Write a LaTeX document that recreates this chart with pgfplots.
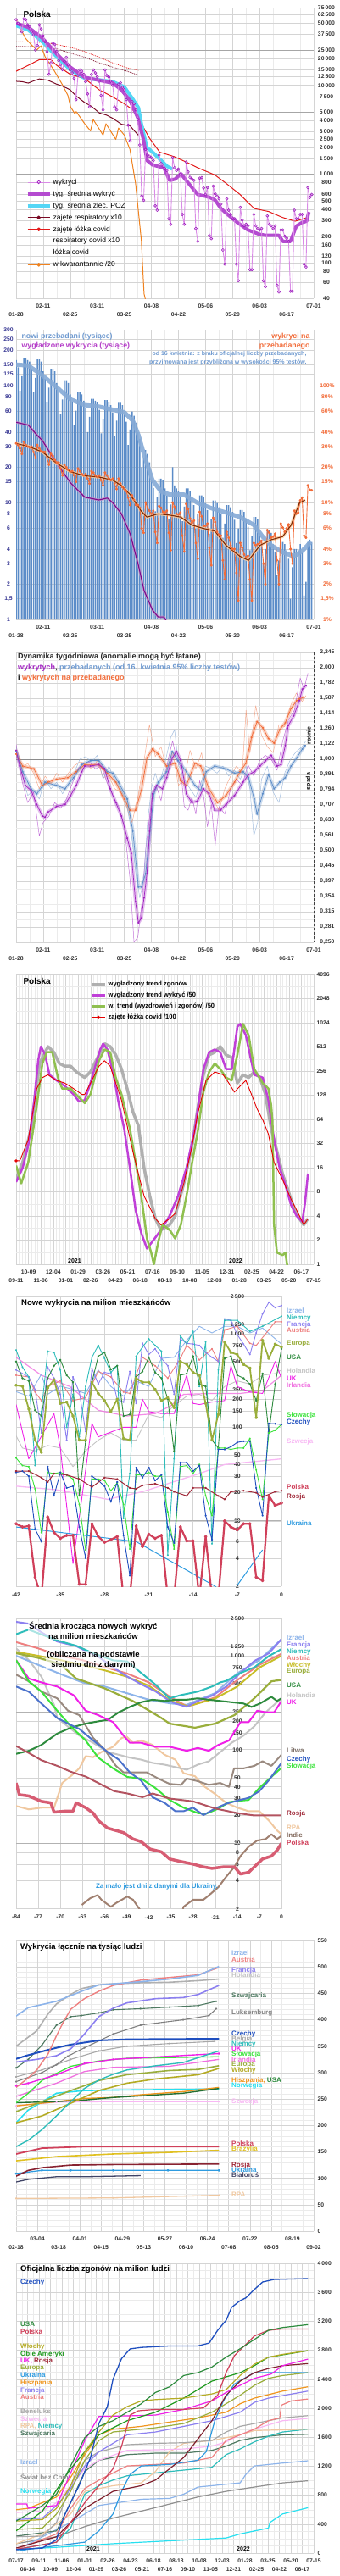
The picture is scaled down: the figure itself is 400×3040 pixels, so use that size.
\documentclass[border=0pt]{standalone}
\usepackage{fontspec}
\setmainfont{Liberation Sans}
\usepackage{pgfplots}
\pgfplotsset{compat=1.18}
\definecolor{cPurpleThick}{HTML}{B44BD0}
\definecolor{cPurpleLight}{HTML}{D98BE6}
\definecolor{cPurpleMark}{HTML}{A021C0}
\definecolor{cCyan}{HTML}{55D6F5}
\definecolor{cDarkRed}{HTML}{7A0A25}
\definecolor{cRed}{HTML}{E31A1A}
\definecolor{cOrange}{HTML}{F0821E}
\definecolor{cBar}{HTML}{5B8CC8}
\definecolor{cBlueSmooth}{HTML}{86AAD6}
\definecolor{cPurple2}{HTML}{7B0A8C}
\definecolor{cOrange2}{HTML}{F26B38}
\definecolor{cBrown}{HTML}{7A2A08}
\definecolor{cTickBlue}{HTML}{3C3C96}
\definecolor{cTextBlue}{HTML}{6F9AD0}
\definecolor{cTextPurple}{HTML}{B43CC8}
\definecolor{cGray4}{HTML}{A8A8A8}
\definecolor{cPurple4}{HTML}{C040D8}
\definecolor{cGreen4}{HTML}{90C050}
\definecolor{cIzrael}{HTML}{8DB4EA}
\definecolor{cNiemcy}{HTML}{2EBDBA}
\definecolor{cFrancja}{HTML}{8C80F0}
\definecolor{cAustria}{HTML}{EE8080}
\definecolor{cEuropa}{HTML}{9AAE3C}
\definecolor{cUSA}{HTML}{2E8B3E}
\definecolor{cHolandia}{HTML}{C4C4C4}
\definecolor{cUK}{HTML}{F020E8}
\definecolor{cIrlandia}{HTML}{F070E0}
\definecolor{cSlowacja}{HTML}{3BE33B}
\definecolor{cCzechy}{HTML}{1F4FBF}
\definecolor{cSzwecja}{HTML}{F8B8F4}
\definecolor{cPolska}{HTML}{D0405A}
\definecolor{cRosja}{HTML}{A02838}
\definecolor{cUkraina}{HTML}{2E9BE0}
\definecolor{cWlochy}{HTML}{C8BE28}
\definecolor{cLitwa}{HTML}{9A8A80}
\definecolor{cRPA}{HTML}{F0C8A0}
\definecolor{cIndie}{HTML}{A08070}
\definecolor{cHiszpania}{HTML}{F0961E}
\definecolor{cNorwegia}{HTML}{28E0F0}
\definecolor{cBrazylia}{HTML}{E0C020}
\definecolor{cBialorus}{HTML}{404466}
\definecolor{cSzwajcaria}{HTML}{4F7A62}
\definecolor{cLuks}{HTML}{808080}
\definecolor{cBelgia}{HTML}{A8A8A8}
\definecolor{cAmeryki}{HTML}{1E9A1E}
\definecolor{cSwiat}{HTML}{909090}
\pgfplotsset{
  base/.style={
    scale only axis, anchor=north west,
    axis line style={draw=none},
    tick style={draw=none},
    tick label style={font=\fontsize{6.8}{8}\selectfont\bfseries, text=black!80},
    /pgf/number format/assume math mode=true,
    grid=both,
    major grid style={draw=black!17, line width=0.45pt},
    minor grid style={draw=black!8, line width=0.4pt},
    yticklabel pos=right,
    unbounded coords=jump,
    every axis plot/.append style={line join=round},
  },
  log2grid/.style={
    grid=none, xmajorgrids=true, xminorgrids=true, ymajorgrids=true, yminorgrids=false,
  },
  daterows/.style={
    xticklabel style={anchor=center, yshift=-19pt},
    extra x tick style={xticklabel style={yshift=10pt}},
  },
}
\tikzset{lab/.style={font=\fontsize{8}{9}\selectfont\bfseries, anchor=west, inner sep=0pt}}
\begin{document}
\begin{tikzpicture}[x=1pt,y=1pt]
\fill[white] (0pt,0pt) rectangle (400pt,-3040pt);
\useasboundingbox (0pt,0pt) rectangle (400pt,-3040pt);

%%%%%%%%%%%%%%%% PANEL 1
\begin{axis}[base, daterows, at={(19pt,-9pt)}, width=351pt, height=343pt,
  xmin=0, xmax=154, ymode=log, ymin=40, ymax=75000,
  xtick={0,28,...,140}, xticklabels={01-28,02-25,03-25,04-22,05-20,06-17},
  extra x ticks={14,42,...,154}, extra x tick labels={02-11,03-11,04-08,05-06,06-03,07-01},
  minor xtick={7,21,...,147},
  ytick={40,60,80,100,120,160,200,300,400,500,600,800,1000,1500,2000,2500,3000,4000,5000,7500,10000,12500,15000,20000,25000,37500,50000,62500,75000},
  yticklabels={40,60,80,100,120,160,200,300,400,500,600,800,1\,000,1\,500,2\,000,2\,500,3\,000,4\,000,5\,000,7\,500,10\,000,12\,500,15\,000,20\,000,25\,000,37\,500,50\,000,62\,500,75\,000},
  minor ytick={},
  yticklabel style={anchor=center, xshift=15pt},
  extra y ticks={200,1000,5000,25000}, extra y tick labels={},
  extra y tick style={major grid style={draw=black!35, line width=0.6pt}},
  legend style={at={(0.03,0.42)}, anchor=north west, draw=none, fill=none, font=\fontsize{8.5}{10}\selectfont, row sep=2.2pt, inner sep=1pt},
  legend cell align=left,
  legend image code/.code={\draw[mark repeat=2,mark phase=2,#1] plot coordinates {(0pt,0pt) (13pt,0pt) (26pt,0pt)};},
]
\addplot[forget plot, cDarkRed, densely dotted, line width=0.8pt] coordinates {(0,27400)(13.6,27200)(21,25800)(28,23100)(35.5,20700)(43,17900)(50,16000)(57.5,14400)(63.3,13000)};
\addplot[forget plot, cRed, densely dotted, line width=0.8pt] coordinates {(0,31000)(13.6,30500)(21,28800)(28,26800)(35.5,24000)(43,20700)(50,17900)(57.5,15700)(63.3,14700)};
\addplot[forget plot, cOrange, line width=1pt] coordinates {(0,56000)(1.9,45000)(4.8,34000)(7.6,29000)(10.7,25000)(12.9,27800)(15,21000)(19.4,15000)(23.8,10300)(26.8,7700)(28.2,5700)(30.4,4800)(31.1,5060)(35.5,3690)(38.5,3070)(39.9,4120)(45,2750)(46.5,3690)(51.6,2460)(53,3300)(56,2750)(58.9,1900)(61.8,790)(64.8,180)(66.2,45)(67,38)};
\addplot[forget plot, cDarkRed, line width=1pt] coordinates {(0,11100)(3,11000)(6.3,10600)(9,11200)(12.1,11800)(16.5,11400)(21,10300)(24,9800)(28,8900)(31,7600)(35.5,6400)(39,5800)(43,4900)(47,4600)(50,4250)(54.5,3650)(59,3500)(61,3100)(63.3,2750)};
\addplot[forget plot, cRed, line width=1pt] coordinates {(0,14400)(6.3,16800)(12.1,19500)(18,19500)(21,16800)(28,13300)(35.5,11900)(43,8900)(50,7400)(56,6200)(60.4,5300)(64.8,3700)(69,2550)(74.3,1770)(81.6,1580)(88,1370)(94,1180)(102.8,980)(108.6,790)(115.9,590)(123.2,410)(130.6,380)(137.9,325)(144.4,295)(146.6,305)(151.8,330)};
\addplot[forget plot, cCyan, line width=4pt] coordinates {(0,47000)(6.3,42000)(13.6,31000)(21,21000)(28,15000)(35.5,12000)(43,11500)(50,11000)(56,9600)(60.4,7000)(63.3,5600)(64.8,3700)(67.7,2000)(70.6,1770)(75,1430)(78,1230)(80.8,1140)};
\addplot[forget plot, cPurpleThick, line width=4pt] coordinates {(0,50000)(6.3,45000)(13.6,34000)(21,22600)(28,16000)(35.5,12300)(43,11400)(50,10600)(54.5,8900)(59,6700)(63,4300)(66,2400)(67.7,1430)(70.6,1270)(76.5,1180)(79.4,850)(82.3,880)(85.3,1010)(88,850)(94,590)(100,550)(103,510)(106,410)(108.6,365)(114.5,285)(120,235)(126,210)(129,205)(136,205)(138,175)(142,175)(145,260)(148,285)(150.3,295)(151.5,375)};
\addplot[forget plot, cPurpleLight, line width=0.9pt, mark=o, mark size=1.6pt, mark options={draw=cPurpleMark, line width=0.6pt, fill=white}] coordinates {
(0,55000)(1,50000)(2,48000)(3,40000)(4,56000)(5,55000)(6,48000)(7,46000)(8,40000)(9,37000)(10,25000)(11,28000)(12,48000)(13,43000)(14,36000)(15,31000)(16,24000)(17,13300)(18,17900)(19,29900)(20,28800)(21,24000)(22,19000)(23,17000)(24,15000)(25,18600)(26,20700)(27,17000)(28,14900)(29,13800)(30,12000)(31,6900)(32,12900)(33,14900)(34,14400)(35,13300)(36,11000)(37,8000)(38,5700)(39,13300)(40,14900)(41,13800)(42,12500)(43,11100)(44,7700)(45,5300)(46,14900)(47,12900)(48,12400)(49,11100)(50,10000)(51,5700)(52,5300)(53,10300)(54,10700)(55,9500)(56,8900)(57,6900)(58,3560)(59,2370)(60,6600)(61,6200)(62,5300)(63,4120)(64,2130)(65,567)(66,508)(67,1900)(68,1640)(69,1590)(70,1530)(71,1420)(72,440)(73,393)(74,1640)(75,1320)(76,1230)(77,1150)(78,1100)(79,315)(80,272)(81,1530)(82,1180)(83,1100)(84,1140)(85,1000)(86,352)(87,272)(88,1370)(89,1060)(90,920)(91,880)(92,850)(93,244)(94,175)(95,900)(96,915)(97,700)(98,590)(99,706)(100,203)(101,188)(102,733)(103,600)(104,567)(105,527)(106,460)(107,140)(108,97)(109,527)(110,393)(111,352)(112,315)(113,315)(114,97)(115,63)(116,423)(117,304)(118,262)(119,272)(120,262)(121,84)(122,84)(123,352)(124,262)(125,244)(126,235)(127,244)(128,63)(129,54)(130,339)(131,272)(132,262)(133,244)(134,262)(135,56)(136,47)(137,235)(138,235)(139,200)(140,190)(141,175)(142,48)(143,48)(144,393)(145,315)(146,315)(147,352)(148,352)(149,97)(150,90)(151,706)(152,547)(153,590)};
\addlegendimage{cPurpleLight, line width=0.9pt, mark=o, mark size=1.8pt, mark options={draw=cPurpleMark, line width=0.7pt, fill=white}}
\addlegendentry{wykryci}
\addlegendimage{cPurpleThick, line width=4pt}
\addlegendentry{tyg. średnia wykryć}
\addlegendimage{cCyan, line width=4pt}
\addlegendentry{tyg. średnia zlec. POZ}
\addlegendimage{cDarkRed, line width=1pt, mark=*, mark size=1.8pt}
\addlegendentry{zajęte respiratory x10}
\addlegendimage{cRed, line width=1pt, mark=*, mark size=1.8pt}
\addlegendentry{zajęte łóżka covid}
\addlegendimage{cDarkRed, densely dotted, line width=0.8pt}
\addlegendentry{respiratory covid x10}
\addlegendimage{cRed, densely dotted, line width=0.8pt}
\addlegendentry{łóżka covid}
\addlegendimage{cOrange, line width=1pt, mark=*, mark size=1.8pt}
\addlegendentry{w kwarantannie /20}
\end{axis}
\node[anchor=west, font=\fontsize{10}{12}\selectfont\bfseries] at (24pt,-17pt) {Polska};

%%%%%%%%%%%%%%%% PANEL 2
\begin{axis}[base, daterows, at={(19pt,-389pt)}, width=351pt, height=342pt,
  xmin=0, xmax=154, ymode=log, ymin=1, ymax=300, log origin y=infty,
  xtick={0,28,...,140}, xticklabels={01-28,02-25,03-25,04-22,05-20,06-17},
  extra x ticks={14,42,...,154}, extra x tick labels={02-11,03-11,04-08,05-06,06-03,07-01},
  minor xtick={7,21,...,147},
  ytick={1,1.5,2,3,4,6,8,10,15,20,30,40,60,80,100,125,150,200,250,300},
  yticklabels={1,{1,5},2,3,4,6,8,10,15,20,30,40,60,80,100,125,150,200,250,300},
  minor ytick={},
  yticklabel pos=left,
  yticklabel style={anchor=center, xshift=-9pt, text=cTickBlue},
  extra y ticks={100}, extra y tick labels={},
  extra y tick style={major grid style={draw=black!35, line width=0.6pt}},
]
\addplot[ybar, bar width=1.5pt, fill=cBar, draw=none, forget plot] coordinates {
(0,165)(1,143)(2,90)(3,120)(4,172)(5,172)(6,165)(7,160)(8,138)(9,87)(10,116)(11,167)(12,167)(13,160)(14,132)(15,114)(16,72)(17,96)(18,138)(19,138)(20,132)(21,105)(22,90)(23,57)(24,76)(25,109)(26,109)(27,105)(28,84)(29,72)(30,46)(31,61)(32,87)(33,87)(34,84)(35,74)(36,64)(37,40)(38,54)(39,77)(40,77)(41,74)(42,72)(43,62)(44,39)(45,52)(46,75)(47,75)(48,72)(49,68)(50,59)(51,37)(52,50)(53,71)(54,71)(55,68)(56,57)(57,49)(58,31)(59,42)(60,60)(61,55)(62,48)(63,40)(64,35)(65,20)(66,24)(67,28)(68,26)(69,22)(70,15.4)(71,13.3)(72,8.4)(73,11.2)(74,16)(75,16)(76,15.4)(77,13.2)(78,11.4)(79,7.2)(80,9.6)(81,20)(82,14)(83,13.2)(84,12.6)(85,11)(86,6.9)(87,9.2)(88,13.2)(89,13.2)(90,12.6)(91,11)(92,9.5)(93,6)(94,8)(95,11.5)(96,11.5)(97,11)(98,9.9)(99,8.6)(100,5.4)(101,7.2)(102,10.4)(103,10.4)(104,9.9)(105,9.1)(106,7.9)(107,5)(108,6.6)(109,9.5)(110,9.5)(111,9.1)(112,8.3)(113,7.1)(114,4.5)(115,6)(116,8.6)(117,8.6)(118,8.3)(119,7.2)(120,6.2)(121,3.9)(122,5.2)(123,7.5)(124,7.5)(125,7.2)(126,5.5)(127,4.8)(128,3)(129,4)(130,5.8)(131,5.8)(132,5.5)(133,4.4)(134,3.8)(135,2.4)(136,3.2)(137,4.6)(138,4.6)(139,4.4)(140,3.9)(141,3.3)(142,1.5)(143,2.8)(144,4)(145,4)(146,3.9)(147,4.4)(148,3.8)(149,1.6)(150,2.1)(151,4.6)(152,4.8)(153,4.6)};
\addplot[cBlueSmooth, line width=5pt, opacity=0.9] coordinates {(0,151)(6.3,148)(13.6,122)(20.9,97)(28.2,76)(35.5,68)(42.8,66)(50.1,62)(56,59)(60.4,50)(63.3,37.8)(66.2,25.6)(70.6,15.5)(75,12.4)(79.4,11.7)(86.7,11.7)(94,9.9)(101.3,8.9)(108.6,8.2)(115.9,7.5)(123.2,6.4)(127.6,5.1)(132,4.3)(137.9,3.76)(143.7,3.46)(148.1,3.86)(152.5,4.6)};
\addplot[violet!45, line width=3pt, opacity=0.7] coordinates {(0,48.5)(6.3,45.9)(10.7,37.8)(13.6,33.8)(20.9,21.7)(28.2,14.7)(35.5,11.1)(42.8,10.5)(47.2,10.9)(50.1,9.9)(54.5,8)(59,5.4)(63.3,2.9)(66.2,1.77)(70.6,1.2)(73.5,1.05)(76.5,1.05)(78,0.95)};
\addplot[cPurple2, line width=1.1pt] coordinates {(0,48.5)(6.3,45.9)(10.7,37.8)(13.6,33.8)(20.9,21.7)(28.2,14.7)(35.5,11.1)(42.8,10.5)(47.2,10.9)(50.1,9.9)(54.5,8)(59,5.4)(63.3,2.9)(66.2,1.77)(70.6,1.2)(73.5,1.05)(76.5,1.05)(78,0.95)};
\addplot[orange!40, line width=3.5pt, opacity=0.8] coordinates {(0,31.9)(6.3,30.2)(13.6,27)(20.9,21.7)(28.2,18.3)(35.5,16.9)(42.8,16.5)(50.1,15.5)(54.5,13.9)(59,11.7)(64.8,8.4)(67.7,7.5)(73.5,8)(79.4,7.8)(85.2,7.5)(91,6.4)(96.9,6)(102.8,5.7)(108.6,4.3)(115.9,3.46)(120.3,3.2)(126.2,4.3)(132,4.8)(137.9,5.1)(142.3,6.4)(146.6,9.9)(149.5,10.5)};
\addplot[cOrange2, line width=0.9pt, mark=*, mark size=1.1pt] coordinates {
(0,32)(1,31)(2,29)(3,26)(4,33)(5,31)(6,30)(7,29.5)(8,30)(9,27)(10,24)(11,31)(12,29)(13,27.5)(14,27)(15,27)(16,24)(17,21)(18,26)(19,25)(20,23)(21,22)(22,22)(23,19.5)(24,17)(25,21)(26,20)(27,19)(28,18.3)(29,18.5)(30,17)(31,15)(32,19.5)(33,18.5)(34,17.5)(35,17)(36,17.5)(37,16)(38,14.5)(39,18.5)(40,18)(41,17)(42,16.5)(43,17)(44,15.5)(45,14)(46,18)(47,17)(48,16)(49,15.5)(50,16)(51,14.5)(52,13)(53,16)(54,14.5)(55,13.5)(56,13)(57,12.5)(58,11)(59,9.5)(60,11.5)(61,10.5)(62,9.5)(63,9.5)(64,9)(65,6)(66,5.5)(67,10)(68,9)(69,8.5)(70,8)(71,8.5)(72,5.6)(73,4.5)(74,9.3)(75,9)(76,8.3)(77,8.2)(78,8.5)(79,5.5)(80,3.9)(81,10)(82,9.2)(83,8)(84,7.9)(85,8.2)(86,5.2)(87,3.8)(88,9.7)(89,8.8)(90,7.3)(91,6.7)(92,7)(93,4.5)(94,3.3)(95,8.3)(96,7.6)(97,6.3)(98,6.3)(99,6.6)(100,4.1)(101,2.9)(102,7.4)(103,6.8)(104,5.6)(105,5.3)(106,5.2)(107,3.2)(108,2.2)(109,5.6)(110,5)(111,4.3)(112,4)(113,4)(114,2.5)(115,1.45)(116,4.5)(117,4.1)(118,3.6)(119,3.4)(120,3.5)(121,2.2)(122,1.45)(123,4.5)(124,4.3)(125,4.4)(126,4.5)(127,4.7)(128,3)(129,2)(130,5.8)(131,5.5)(132,5)(133,5.1)(134,5.4)(135,3.2)(136,2)(137,6.6)(138,6.1)(139,5.6)(140,6)(141,6.5)(142,4)(143,3)(144,8.5)(145,8)(146,8.2)(147,10.4)(148,11)(149,5.2)(150,5)(151,14)(152,12.8)(153,12.7)};
\addplot[cBrown, line width=1.1pt] coordinates {(0,31.9)(6.3,30.2)(13.6,27)(20.9,21.7)(28.2,18.3)(35.5,16.9)(42.8,16.5)(50.1,15.5)(54.5,13.9)(59,11.7)(64.8,8.4)(67.7,7.5)(73.5,8)(79.4,7.8)(85.2,7.5)(91,6.4)(96.9,6)(102.8,5.7)(108.6,4.3)(115.9,3.46)(120.3,3.2)(126.2,4.3)(132,4.8)(137.9,5.1)(142.3,6.4)(146.6,9.9)(149.5,10.5)};
\end{axis}
\begin{axis}[scale only axis, anchor=north west, at={(19pt,-389pt)}, width=351pt, height=342pt,
  xmin=0, xmax=154, ymode=log, ymin=1, ymax=300, hide x axis, axis line style={draw=none}, tick style={draw=none},
  ytick={1,1.5,2,3,4,6,8,10,15,20,30,40,60,80,100},
  yticklabels={1\%,{1,5\%},2\%,3\%,4\%,6\%,8\%,10\%,15\%,20\%,30\%,40\%,60\%,80\%,100\%},
  minor ytick={}, yticklabel pos=right,
  yticklabel style={anchor=center, xshift=16pt, text=cOrange2, font=\fontsize{6.8}{8}\selectfont\bfseries},
]
\addplot[draw=none] coordinates {(0,10)};
\end{axis}
\node[anchor=west, font=\fontsize{8.8}{10}\selectfont\bfseries, text=cTextBlue] at (22pt,-397pt) {nowi przebadani (tysiące)};
\node[anchor=west, font=\fontsize{8.8}{10}\selectfont\bfseries, text=cTextPurple] at (22pt,-408pt) {wygładzone wykrycia (tysiące)};
\node[anchor=east, font=\fontsize{8.8}{10}\selectfont\bfseries, text=cOrange2] at (369pt,-397pt) {wykryci na};
\node[anchor=east, font=\fontsize{8.8}{10}\selectfont\bfseries, text=cOrange2] at (369pt,-408pt) {przebadanego};
\node[anchor=east, align=right, font=\fontsize{7}{10}\selectfont\bfseries, text=cTextBlue] at (365pt,-423pt) {od 16 kwietnia: z braku oficjalnej liczby przebadanych,\\przyjmowana jest przybliżona w wysokości 95\% testów.};

%%%%%%%%%%%%%%%% PANEL 3
\begin{axis}[base, log2grid, daterows, at={(19pt,-770pt)}, width=351pt, height=342pt,
  xmin=0, xmax=154, ymode=log, log basis y=2, ymin=0.25, ymax=2.2449,
  xtick={0,28,...,140}, xticklabels={01-28,02-25,03-25,04-22,05-20,06-17},
  extra x ticks={14,42,...,154}, extra x tick labels={02-11,03-11,04-08,05-06,06-03,07-01},
  minor xtick={7,21,...,147},
  ytick={0.25,0.2806,0.315,0.3536,0.3969,0.4454,0.5,0.5612,0.63,0.7071,0.7937,0.8909,1,1.1225,1.2599,1.4142,1.5874,1.7818,2,2.2449},
  yticklabels={{0,250},{0,281},{0,315},{0,354},{0,397},{0,445},{0,500},{0,561},{0,630},{0,707},{0,794},{0,891},{1,000},{1,122},{1,260},{1,414},{1,587},{1,782},{2,000},{2,245}},
  yticklabel style={anchor=center, xshift=16pt},
  extra y ticks={0.265,0.297,0.334,0.375,0.421,0.472,0.53,0.595,0.667,0.749,0.841,0.944,1.06,1.19,1.335,1.5,1.68,1.89,2.12}, extra y tick labels={},
  extra y tick style={major grid style={draw=black!8, line width=0.4pt}},
]
\draw[black!45, line width=0.7pt] (axis cs:0,1) -- (axis cs:154,1);
\addplot[cOrange2, line width=4pt, opacity=0.3] coordinates {(0,1.04)(3.4,0.95)(9.2,0.93)(13.6,0.82)(16.5,0.84)(20.9,0.86)(26.8,0.87)(31.1,0.91)(35.5,0.96)(42.8,0.96)(47.2,0.9)(51.6,0.84)(56,0.74)(58.9,0.68)(61.8,0.68)(64.8,0.79)(67.7,1.01)(70.6,1.08)(73.5,1.04)(77.9,0.95)(82.3,0.97)(85.2,0.85)(88.1,0.82)(92.5,0.97)(95.5,0.95)(99.8,0.8)(104.2,0.72)(108.6,0.76)(113,0.84)(115.9,0.91)(118.9,0.97)(121.8,1.18)(124.7,1.33)(127.6,1.27)(130.6,1.17)(133.5,1.13)(136.4,1.25)(139.3,1.32)(142.3,1.47)(145.2,1.56)(146.6,1.58)(149,1.6)};
\addplot[cBar, line width=4pt, opacity=0.3] coordinates {(0,1.06)(3.4,0.91)(7.7,0.8)(10.7,0.77)(15,0.84)(20.9,0.82)(25.3,0.80)(29.7,0.87)(34,0.96)(38.5,0.99)(42.8,0.99)(47.2,0.91)(50.1,0.9)(53,0.84)(57.5,0.74)(60.4,0.58)(63.3,0.38)(64.8,0.38)(67,0.42)(69.1,0.56)(71.3,0.77)(73.5,0.84)(77.9,0.91)(80.8,1.06)(83.8,0.99)(88.1,0.91)(92.5,0.82)(95.5,0.79)(98.4,0.91)(102.8,0.95)(108.6,0.93)(113,0.90)(117.4,0.91)(120.3,0.87)(123.2,0.74)(124.7,0.66)(127.6,0.77)(130.6,0.89)(133.5,0.80)(136.4,0.84)(139.3,0.87)(142.3,0.95)(145.2,1.01)(148.1,1.08)(149.6,1.11)};
\addplot[cPurpleThick, line width=4pt, opacity=0.35] coordinates {(0,1.07)(1.9,0.95)(4.8,0.82)(7.7,0.79)(10.7,0.71)(13.6,0.65)(15,0.645)(16.5,0.67)(20.9,0.7)(25.3,0.71)(28.2,0.76)(31.1,0.82)(34,0.91)(35.5,0.95)(38.5,0.95)(42.8,0.96)(45.8,0.93)(48.7,0.8)(51.6,0.72)(54.5,0.65)(57.5,0.55)(59.6,0.49)(61.8,0.34)(63.3,0.29)(64.8,0.30)(66.2,0.35)(67.7,0.42)(69.1,0.58)(70.6,0.77)(72.8,0.82)(75.7,0.80)(77.9,0.87)(80.8,1.01)(83,1.06)(85.2,0.99)(88.1,0.77)(91,0.72)(94,0.73)(96.9,0.80)(99.8,0.77)(102.8,0.68)(105.7,0.68)(108.6,0.71)(113,0.76)(117.4,0.84)(120.3,0.89)(123.2,0.91)(126.2,0.95)(129.1,0.99)(132,1.03)(135,0.95)(137.1,0.96)(139.3,1.11)(140.8,1.29)(143.7,1.39)(146.6,1.56)(148.1,1.7)(150,1.75)};
\addplot[cOrange2!80, line width=0.5pt, opacity=0.7] coordinates {(0,1.1)(3,0.93)(6,0.97)(9,0.9)(12,0.8)(15,0.88)(18,0.83)(21,0.9)(24,0.84)(27,0.9)(30,0.95)(33,0.98)(36,0.97)(39,0.93)(42,0.99)(45,0.87)(48,0.88)(51,0.8)(54,0.78)(57,0.7)(60,0.62)(63,0.75)(66,0.97)(69,1.3)(72,1.02)(75,1.1)(78,0.92)(81,1.06)(84,0.82)(87,0.86)(90,1.07)(93,0.93)(96,1.05)(99,0.77)(102,0.74)(105,0.68)(108,0.8)(111,0.88)(114,0.95)(117,0.9)(119,1.45)(121,1.05)(124,1.5)(127,1.2)(130,1.1)(133,1.05)(136,1.3)(139,1.28)(142,1.5)(145,1.65)(148,1.55)(150,1.62)};
\addplot[cPurpleThick, line width=0.5pt, opacity=0.8] coordinates {(0,1.12)(3,0.85)(6,0.72)(9,0.78)(12,0.56)(14,0.62)(17,0.65)(20,0.72)(23,0.69)(26,0.74)(29,0.83)(32,0.93)(35,0.97)(38,0.98)(41,0.93)(44,0.95)(47,0.84)(50,0.76)(53,0.7)(56,0.6)(59,0.4)(61,0.25)(63,0.26)(65,0.33)(67,0.5)(69,0.64)(71,0.82)(73,0.8)(75,0.73)(77,0.88)(79,1.02)(81,1.15)(83,1.0)(85,0.95)(87,0.7)(89,0.68)(91,0.75)(93,0.66)(95,0.85)(97,0.76)(99,0.6)(101,0.71)(103,0.52)(105,0.7)(108,0.66)(111,0.8)(114,0.86)(117,0.82)(120,0.96)(123,0.88)(126,0.99)(129,1.03)(132,1.0)(135,0.92)(138,1.15)(141,1.35)(144,1.45)(147,1.85)(149,1.7)(151,1.92)};
\addplot[cBar!70, line width=0.5pt, opacity=0.8] coordinates {(0,1.1)(3,0.9)(6,0.76)(9,0.79)(12,0.74)(15,0.86)(18,0.8)(21,0.84)(24,0.77)(27,0.83)(30,0.9)(33,1.0)(36,1.02)(39,0.98)(42,1.03)(45,0.86)(48,0.95)(51,0.85)(54,0.8)(57,0.72)(59,0.62)(62,0.42)(64,0.35)(66,0.4)(68,0.62)(70,0.8)(72,0.9)(74,0.82)(77,0.97)(80,1.18)(82,1.25)(84,0.96)(87,0.86)(90,0.8)(93,0.75)(96,0.85)(98,0.95)(101,0.93)(104,0.9)(107,0.95)(110,0.88)(113,0.92)(116,0.86)(119,0.95)(121,0.8)(123,0.56)(125,0.62)(127,0.86)(130,0.95)(133,0.78)(136,0.72)(139,0.9)(142,1.0)(145,1.06)(148,1.1)(150,1.15)};
\addplot[cOrange2, line width=0.7pt, mark=*, mark size=0.7pt] coordinates {(0,1.04)(3.4,0.95)(9.2,0.93)(13.6,0.82)(16.5,0.84)(20.9,0.86)(26.8,0.87)(31.1,0.91)(35.5,0.96)(42.8,0.96)(47.2,0.9)(51.6,0.84)(56,0.74)(58.9,0.68)(61.8,0.68)(64.8,0.79)(67.7,1.01)(70.6,1.08)(73.5,1.04)(77.9,0.95)(82.3,0.97)(85.2,0.85)(88.1,0.82)(92.5,0.97)(95.5,0.95)(99.8,0.8)(104.2,0.72)(108.6,0.76)(113,0.84)(115.9,0.91)(118.9,0.97)(121.8,1.18)(124.7,1.33)(127.6,1.27)(130.6,1.17)(133.5,1.13)(136.4,1.25)(139.3,1.32)(142.3,1.47)(145.2,1.56)(146.6,1.58)(149,1.6)};
\addplot[cBar, line width=0.7pt, mark=*, mark size=0.7pt] coordinates {(0,1.06)(3.4,0.91)(7.7,0.8)(10.7,0.77)(15,0.84)(20.9,0.82)(25.3,0.80)(29.7,0.87)(34,0.96)(38.5,0.99)(42.8,0.99)(47.2,0.91)(50.1,0.9)(53,0.84)(57.5,0.74)(60.4,0.58)(63.3,0.38)(64.8,0.38)(67,0.42)(69.1,0.56)(71.3,0.77)(73.5,0.84)(77.9,0.91)(80.8,1.06)(83.8,0.99)(88.1,0.91)(92.5,0.82)(95.5,0.79)(98.4,0.91)(102.8,0.95)(108.6,0.93)(113,0.90)(117.4,0.91)(120.3,0.87)(123.2,0.74)(124.7,0.66)(127.6,0.77)(130.6,0.89)(133.5,0.80)(136.4,0.84)(139.3,0.87)(142.3,0.95)(145.2,1.01)(148.1,1.08)(149.6,1.11)};
\addplot[cPurpleMark, line width=0.7pt, mark=*, mark size=0.7pt] coordinates {(0,1.07)(1.9,0.95)(4.8,0.82)(7.7,0.79)(10.7,0.71)(13.6,0.65)(15,0.645)(16.5,0.67)(20.9,0.7)(25.3,0.71)(28.2,0.76)(31.1,0.82)(34,0.91)(35.5,0.95)(38.5,0.95)(42.8,0.96)(45.8,0.93)(48.7,0.8)(51.6,0.72)(54.5,0.65)(57.5,0.55)(59.6,0.49)(61.8,0.34)(63.3,0.29)(64.8,0.30)(66.2,0.35)(67.7,0.42)(69.1,0.58)(70.6,0.77)(72.8,0.82)(75.7,0.80)(77.9,0.87)(80.8,1.01)(83,1.06)(85.2,0.99)(88.1,0.77)(91,0.72)(94,0.73)(96.9,0.80)(99.8,0.77)(102.8,0.68)(105.7,0.68)(108.6,0.71)(113,0.76)(117.4,0.84)(120.3,0.89)(123.2,0.91)(126.2,0.95)(129.1,0.99)(132,1.03)(135,0.95)(137.1,0.96)(139.3,1.11)(140.8,1.29)(143.7,1.39)(146.6,1.56)(148.1,1.7)(150,1.75)};
\end{axis}
\draw[densely dashed, black!75, line width=0.6pt] (370pt,-770pt) -- (370pt,-1112pt);
\node[anchor=west, font=\fontsize{9}{10}\selectfont\bfseries, text=black!85, inner sep=0pt] at (21pt,-775pt) {Dynamika tygodniowa (anomalie mogą być łatane)};
\node[anchor=west, font=\fontsize{9}{10}\selectfont\bfseries, inner sep=0pt] at (21pt,-788pt) {\textcolor{cPurpleMark}{wykrytych}, \textcolor{cTextBlue}{przebadanych (od 16. kwietnia 95\% liczby testów)}};
\node[anchor=west, font=\fontsize{9}{10}\selectfont\bfseries, inner sep=0pt] at (21pt,-800pt) {i \textcolor{cOrange2}{wykrytych na przebadanego}};
\node[rotate=90, font=\fontsize{7}{8}\selectfont\bfseries] at (364pt,-868pt) {rośnie};
\node[rotate=90, font=\fontsize{7}{8}\selectfont\bfseries] at (364pt,-922pt) {spada};

%%%%%%%%%%%%%%%% PANEL 4
\begin{axis}[base, log2grid, daterows, at={(19pt,-1150pt)}, width=351pt, height=342pt,
  xmin=0, xmax=672, ymode=log, log basis y=2, ymin=1, ymax=4096,
  xtick={0,56,...,672}, xticklabels={09-11,11-06,01-01,02-26,04-23,06-18,08-13,10-08,12-03,01-28,03-25,05-20,07-15},
  extra x ticks={28,84,...,644}, extra x tick labels={10-09,12-04,01-29,03-26,05-21,07-16,09-10,11-05,12-31,02-25,04-22,06-17},
  minor xtick={0,7,...,672},
  ytick={1,2,4,8,16,32,64,128,256,512,1024,2048,4096},
  yticklabels={1,2,4,8,16,32,64,128,256,512,1024,2048,4096},
  extra y ticks={1.41,2.83,5.66,11.3,22.6,45.3,90.5,181,362,724,1448,2896}, extra y tick labels={},
  extra y tick style={major grid style={draw=black!8, line width=0.4pt}},
  yticklabel style={anchor=west, xshift=0pt},
  legend style={at={(0.245,0.985)}, anchor=north west, draw=none, fill=none, font=\fontsize{7.5}{9}\selectfont\bfseries, row sep=1.8pt, inner sep=1pt},
  legend cell align=left,
  legend image code/.code={\draw[mark repeat=2,mark phase=2,#1] plot coordinates {(0pt,0pt) (8pt,0pt) (16pt,0pt)};},
]
\addplot[cGray4, line width=3.5pt, opacity=0.9] coordinates {(0,11.4)(14.7,18.6)(33.8,49)(53,319)(72,518)(84.9,440)(97.6,319)(110,295)(123,295)(136,250)(155,212)(167.8,250)(187,407)(199.7,562)(212.5,518)(225,407)(238,271)(250.7,155)(263.5,80)(276,53.5)(289,15.9)(301.8,7.1)(314.5,3.7)(327,2.67)(346.4,3.1)(359,4)(378,9.8)(397.5,30.4)(410,87)(423,230)(435.8,407)(448.5,440)(461,518)(474,407)(486.8,378)(499.6,181)(512.3,230)(525,212)(537.8,250)(550.6,212)(563,131)(576,49)(589,25.8)(601.6,13.5)(614.4,8.3)(627,5.1)(640,3.7)(649.5,3.1)(659,3.7)};
\addlegendentry{wygładzony trend zgonów}
\addplot[cPurple4, line width=2.5pt] coordinates {(0,10.6)(14.7,15.9)(27.4,30.4)(40.2,102)(49.8,345)(56,518)(65.7,407)(75.3,230)(91.2,196)(110,167)(129.5,131)(142,107)(155,111)(167.8,181)(180.5,319)(190,477)(196.5,562)(206,477)(218.8,250)(231.6,102)(244,49)(257,15.9)(270,4.7)(282.6,2.46)(295.4,1.57)(308,1.93)(327,2.67)(346.4,4)(365.6,7.1)(384.7,15.9)(403.9,49)(423,271)(435.8,440)(448.5,477)(461,440)(474,271)(486.8,271)(499.6,915)(506,990)(518.7,718)(537.8,230)(557,212)(569.7,111)(582.5,35.7)(595,15.9)(608,9.8)(620.8,5.5)(633.5,4)(646.3,3.4)(652.7,6)(659,13.5)};
\addlegendentry{wygładzony trend wykryć /50}
\addplot[cGreen4, line width=2.5pt] coordinates {(0,17)(11.5,10.2)(27.4,18.6)(46.6,95)(59.3,319)(68.9,440)(81.7,440)(94.4,212)(104,155)(123,155)(142,120)(155,102)(167.8,131)(187,345)(199.7,477)(212.5,440)(225,212)(238,131)(257,49)(270,18.6)(282.6,7.1)(295.4,2.1)(305,1.4)(311,1.0)(321,1.9)(330.5,3.1)(346.4,2.7)(359,2.1)(372,3.1)(384.7,7.1)(397.5,18.6)(410,45)(423,140)(435.8,250)(448.5,319)(461,271)(474,212)(486.8,196)(499.6,407)(512.3,990)(525,718)(537.8,271)(557,181)(569.7,155)(576,95)(579,60)(582.5,3.1)(589,1.4)(601.6,1.3)(608,1.4)(614.4,0.8)};
\addlegendentry{w. trend (wyzdrowień i zgonów) /50}
\addplot[red!90!black, line width=0.9pt, mark=*, mark size=1.3pt, mark repeat=1000] coordinates {(0,19.5)(8.3,19.5)(27.4,35.7)(46.6,155)(59.3,212)(72,230)(91.2,196)(110,181)(129.5,155)(148.7,131)(155,131)(167.8,181)(187,295)(199.7,345)(212.5,295)(225,181)(238,111)(250.7,53.5)(263.5,25.8)(276,13.5)(289,7.1)(301.8,5.1)(314.5,3.7)(327,3.1)(346.4,3.7)(359,4.3)(378,9.8)(397.5,30.4)(410,75)(429,196)(448.5,250)(467.6,230)(480.4,181)(493,140)(506,167)(518.7,196)(531.5,131)(544,87)(557,63)(569.7,42)(582.5,18.6)(601.6,11.4)(620.8,6.5)(640,4)(649.5,3.1)(659,3.7)};
\addlegendentry{zajęte łóżka covid /100}
\end{axis}
\node[anchor=west, font=\fontsize{10}{12}\selectfont\bfseries] at (24pt,-1158pt) {Polska};
\node[font=\fontsize{7}{8}\selectfont\bfseries] at (88pt,-1488pt) {2021};
\node[font=\fontsize{7}{8}\selectfont\bfseries] at (278pt,-1488pt) {2022};

%%%%%%%%%%%%%%%% PANEL 5
\begin{axis}[base, at={(19pt,-1530pt)}, width=313pt, height=342pt,
  xmin=-42, xmax=0, ymode=log, ymin=2, ymax=2500,
  xtick={-42,-35,...,0}, minor xtick={},
  xticklabel style={anchor=center, yshift=-10pt},
  ytick={2,4,6,8,10,20,30,40,50,100,150,200,250,500,750,1000,1250,2500},
  yticklabels={2,4,6,8,10,20,30,40,50,100,150,200,250,500,750,1\,000,1\,250,2\,500},
  minor ytick={},
  yticklabel style={anchor=center, xshift=-52pt},
  extra y ticks={10,250}, extra y tick labels={},
  extra y tick style={major grid style={draw=black!30, line width=0.7pt}},
]
\addplot[cSzwecja, line width=1.3pt] coordinates {(-42,23.5)(-35.6,21.5)(-27.5,17)(-22,20.5)(-13,32)(-9,40)(0,46)};
\addplot[cHolandia, line width=0.9pt] coordinates {(-42,81)(-41,60)(-39,56)(-37,64)(-35,60)(-33,38)(-31,56)(-29,73)(-27,87)(-25,73)(-23,73)(-21,137)(-19,127)(-17,170)(-15,215)(-13,225)(-11,193)(-9,273)(-7,313)(-5,290)(-3,360)(-1,375)(0,410)};
\addplot[cIrlandia, line width=1.2pt, opacity=0.8] coordinates {(-42,560)(-38,360)(-33.5,273)(-29,152)(-24.5,132)(-20,140)(-17.5,170)(-15.5,225)(-11,230)(-6.5,230)(-3,246)(0,360)};
\addplot[cUK, line width=0.9pt] coordinates {(-42,175)(-40,46)(-36,140)(-35,60)(-33,3.5)(-30,110)(-29,79)(-25,100)(-23,100)(-22,200)(-21,147)(-19,140)(-17,140)(-15,360)(-14,180)(-13,175)(-11,186)(-9,193)(-8,455)(-7,273)(-5,238)(-3,230)(-1,505)(0,335)};
\addplot[cIzrael, line width=0.9pt] coordinates {(-42,240)(-40,215)(-38,370)(-37,225)(-35,275)(-33,254)(-31,230)(-29,410)(-27,273)(-25,215)(-23,313)(-21,273)(-19,545)(-17,560)(-15,850)(-13,1200)(-11,1020)(-9,1200)(-7,1200)(-5,1020)(-3,1150)(0,775)};
\addplot[cAustria, line width=0.9pt, mark=*, mark size=0.6pt] coordinates {(-42,360)(-40,345)(-39,238)(-38,193)(-37,273)(-35,313)(-33,193)(-31,207)(-29,395)(-27,345)(-25,238)(-24,230)(-23,360)(-22,560)(-20,455)(-18,335)(-16,545)(-15,750)(-14,650)(-13,525)(-11,690)(-10,505)(-9,1100)(-7,1200)(-5,790)(-4,750)(-2,1100)(-1,1340)(0,1340)};
\addplot[cFrancja, line width=0.9pt, mark=*, mark size=0.6pt] coordinates {(-42,410)(-40,345)(-39,254)(-38,87)(-37,440)(-36,335)(-35,225)(-34,73)(-33,345)(-32,238)(-31,90)(-30,425)(-29,290)(-28,386)(-27,375)(-26,200)(-25,186)(-24,395)(-23,180)(-22,790)(-21,600)(-20,690)(-19,545)(-18,455)(-17,225)(-16,880)(-15,790)(-14,775)(-13,750)(-12,630)(-11,560)(-10,505)(-9,1440)(-8,1390)(-7,980)(-6,775)(-5,600)(-4,1020)(-3,1630)(-2,2170)(-1,1900)(0,2000)};
\addplot[cNiemcy, line width=0.9pt, mark=*, mark size=0.6pt] coordinates {(-42,670)(-41,440)(-40,345)(-39,39)(-38,147)(-37,650)(-36,630)(-35,410)(-34,100)(-33,225)(-32,79)(-31,273)(-30,560)(-29,750)(-28,545)(-27,386)(-26,455)(-25,10.6)(-24,32)(-23,575)(-22,720)(-21,880)(-20,750)(-19,650)(-18,4.3)(-17,46)(-16,950)(-15,775)(-14,1060)(-13,273)(-12,820)(-11,5.7)(-10,410)(-9,1390)(-8,1390)(-7,1390)(-5,1060)(-3,1200)(0,1540)};
\addplot[cUSA, line width=0.9pt, mark=*, mark size=0.8pt] coordinates {(-42,505)(-41,335)(-40,313)(-39,152)(-38,132)(-37,335)(-36,455)(-35,525)(-34,360)(-33,303)(-32,18.6)(-31,71)(-30,303)(-29,575)(-28,630)(-27,415)(-26,455)(-25,132)(-24,137)(-23,345)(-22,395)(-21,560)(-20,386)(-19,335)(-18,200)(-17,55)(-16,360)(-15,375)(-14,575)(-13,290)(-12,273)(-11,73)(-10,60)(-9,545)(-8,575)(-7,360)(-6,335)(-5,290)(-4,193)(-3,375)(-2,87)(-1,290)(0,690)};
\addplot[cEuropa, line width=1.8pt, mark=*, mark size=1pt] coordinates {(-42,281)(-41,274)(-40,157)(-39,73)(-38,54)(-37,264)(-36,323)(-35,180)(-34,186)(-33,132)(-32,73)(-31,73)(-30,303)(-29,230)(-28,193)(-27,147)(-26,200)(-25,76)(-24,73)(-23,335)(-22,303)(-21,303)(-20,254)(-19,193)(-18,207)(-17,162)(-16,505)(-15,470)(-14,386)(-13,360)(-12,180)(-11,73)(-10,137)(-9,816)(-8,630)(-7,600)(-6,470)(-5,430)(-4,127)(-3,850)(-2,545)(-1,775)(0,720)};
\addplot[cSlowacja, line width=0.9pt, mark=*, mark size=0.6pt] coordinates {(-42,47)(-41,39)(-40,38)(-39,22)(-38,7.5)(-37,33)(-36,32)(-35,33)(-34,31)(-33,28)(-32,15)(-31,4.9)(-30,28)(-29,28)(-28,27)(-27,21)(-26,25.5)(-25,15)(-24,5)(-23,31)(-22,31)(-21,33)(-20,30)(-19,30)(-18,12.5)(-17,5)(-16,38)(-15,39)(-14,32)(-13,40)(-12,18.6)(-11,11.4)(-10,60)(-9,60)(-8,58)(-7,60)(-6,60)(-5,76)(-4,35)(-3,17)(-2,87)(-1,93)(0,107)};
\addplot[cCzechy, line width=0.9pt, mark=*, mark size=0.7pt] coordinates {(-42,33)(-41,34)(-40,30)(-39,8.2)(-38,6)(-37,38)(-36,18.6)(-35,33)(-34,22.5)(-33,23.5)(-32,8.6)(-31,4)(-30,30)(-29,27)(-28,23.5)(-27,16)(-26,26)(-25,7)(-24,2.6)(-23,37)(-22,29)(-21,37)(-20,27)(-19,31)(-18,8.6)(-17,5.8)(-16,42)(-15,42)(-14,34)(-13,39)(-12,11.4)(-11,6.3)(-10,58)(-9,58)(-8,62)(-7,69)(-6,71)(-5,71)(-4,22.5)(-3,11.4)(-2,110)(-1,109)(0,107)};
\addplot[cUkraina, line width=1pt] coordinates {(-42,8.6)(-23,6)(-10.5,2)(-9,1.5)(-7.5,1.5)(-7,2.05)(-3,4.9)};
\addplot[cRosja, line width=1pt, mark=*, mark size=0.7pt] coordinates {(-42,34)(-40,34)(-38,29)(-37,26)(-36,32)(-34,31)(-32,28)(-30,23)(-28,29)(-26,28)(-24,22.5)(-23,22)(-22,24)(-20,25)(-18,22.5)(-17,20.5)(-15,18.5)(-14,22.5)(-12,22.5)(-10,18.5)(-9,17)(-8,20.5)(-6,21)(-4,20)(-3,18)(-1,20.5)(0,21)};
\addplot[cPolska, line width=2.2pt, mark=o, mark size=1.5pt, mark options={line width=0.9pt, fill=white}] coordinates {(-42,9.3)(-41,8.6)(-40,8.8)(-39,2.5)(-38,1.5)(-37,11)(-36,7.5)(-35,6.5)(-34,7)(-33,7)(-32,2.1)(-31,2.1)(-30,9.3)(-29,6.8)(-28,5.9)(-27,6.3)(-26,6.8)(-25,1.5)(-24,1.5)(-23,8.8)(-22,5.3)(-21,7.2)(-20,6.5)(-19,7)(-18,1.5)(-17,1.5)(-16,8.6)(-15,6.1)(-14,6.1)(-13,1.5)(-12,6.8)(-11,1.5)(-10,1.5)(-9,10)(-8,8.6)(-7,8)(-6,9.3)(-5,9.3)(-4,2.5)(-3,2.3)(-2,18.6)(-1,14.6)(0,15.5)};
\end{axis}
\node[anchor=west, font=\fontsize{9.5}{11}\selectfont\bfseries, inner sep=0pt] at (25pt,-1538pt) {Nowe wykrycia na milion mieszkańców};
\node[lab, text=cIzrael] at (338pt,-1547pt) {Izrael};
\node[lab, text=cNiemcy] at (338pt,-1555pt) {Niemcy};
\node[lab, text=cFrancja] at (338pt,-1563pt) {Francja};
\node[lab, text=cAustria] at (338pt,-1570pt) {Austria};
\node[lab, text=cEuropa] at (338pt,-1586pt) {Europa};
\node[lab, text=cUSA] at (338pt,-1602pt) {USA};
\node[lab, text=cHolandia] at (338pt,-1618pt) {Holandia};
\node[lab, text=cUK] at (338pt,-1627pt) {UK};
\node[lab, text=cIrlandia] at (338pt,-1635pt) {Irlandia};
\node[lab, text=cSlowacja] at (338pt,-1670pt) {Słowacja};
\node[lab, text=cCzechy] at (338pt,-1678pt) {Czechy};
\node[lab, text=cSzwecja] at (338pt,-1701pt) {Szwecja};
\node[lab, text=cPolska] at (338pt,-1755pt) {Polska};
\node[lab, text=cRosja] at (338pt,-1766pt) {Rosja};
\node[lab, text=cUkraina] at (338pt,-1798pt) {Ukraina};

%%%%%%%%%%%%%%%% PANEL 6
\begin{axis}[base, at={(19pt,-1910pt)}, width=313pt, height=342.6pt,
  xmin=-84, xmax=0, ymode=log, ymin=2, ymax=2500,
  xtick={-84,-77,...,0}, minor xtick={},
  xticklabel style={anchor=center, yshift=-10pt},
  ytick={2,4,6,8,10,20,30,40,50,100,150,200,250,500,750,1000,1250,2500},
  yticklabels={2,4,6,8,10,20,30,40,50,100,150,200,250,500,750,1\,000,1\,250,2\,500},
  minor ytick={},
  yticklabel style={anchor=center, xshift=-52pt},
  extra y ticks={10,250}, extra y tick labels={},
  extra y tick style={major grid style={draw=black!30, line width=0.7pt}},
]
\addplot[cIndie, line width=2pt] coordinates {(-63.2,2.2)(-60.5,2.6)(-58.2,2.8)(-57,2.5)(-54,2.1)(-52.4,2.3)(-48.8,2.7)(-47,2.5)(-45,2.0)(-44,1.8)};
\addplot[cIndie, line width=2pt] coordinates {(-31.5,1.8)(-31,2.1)(-28,2.5)(-24.7,2.5)(-22.9,2.8)(-20,3.4)(-17.5,4.4)(-14.9,5.6)(-13,7.3)(-10.4,9.2)(-7.7,10.7)(-5,11.1)(-3.2,12.5)(-1.4,11.1)(0,12)};
\addplot[cRPA, line width=2pt] coordinates {(-84,25)(-80,23)(-76,24)(-72,24)(-69.4,44)(-66.7,52)(-64,63)(-62,85)(-59.6,83)(-57,94)(-53.3,107)(-50.6,133)(-49,137)(-47,118)(-44.4,125)(-40.8,112)(-37,88)(-33.6,78)(-31,56)(-27.4,52)(-24.7,41)(-21,33.5)(-17.5,27)(-14,24)(-10.4,22)(-7,22)(-4,17.5)(-1.4,13.7)(0,12.5)};
\addplot[cHolandia, line width=2pt] coordinates {(-84,1200)(-80,900)(-76,600)(-72,300)(-71,217)(-64,141)(-59.6,118)(-55,94)(-51.5,88)(-48,82)(-44.4,78)(-40.8,72)(-37,69)(-33.6,65)(-30,61)(-26.5,69)(-23,75)(-19.4,94)(-15.8,118)(-12,141)(-8.6,177)(-5,250)(0,352)};
\addplot[cLitwa, line width=2pt] coordinates {(-84,630)(-80,534)(-76,415)(-71,352)(-67.6,260)(-64,233)(-59.6,133)(-56,100)(-52.4,67)(-50,57)(-46,57)(-42.6,57)(-39,49)(-35.4,43)(-31.8,42)(-30,49)(-26.5,46)(-23,42)(-19.4,44)(-16.6,40)(-15,63)(-12,63)(-8.6,67)(-6,75)(-3.2,67)(0,88)};
\addplot[cIzrael, line width=2pt] coordinates {(-84,1000)(-77,800)(-70,640)(-63,520)(-56,470)(-49,400)(-42,340)(-35,310)(-30,300)(-28,320)(-21,400)(-14,650)(-7,900)(0,1500)};
\addplot[cAustria, line width=2pt] coordinates {(-84,1400)(-77,1200)(-70,1000)(-63,900)(-56,760)(-49,650)(-42,520)(-35,360)(-30,290)(-28,300)(-21,360)(-14,550)(-7,800)(0,1050)};
\addplot[cWlochy, line width=2pt] coordinates {(-84,1100)(-77,1000)(-70,900)(-63,800)(-56,700)(-49,600)(-42,480)(-35,330)(-30,290)(-28,300)(-21,350)(-14,470)(-7,750)(0,1000)};
\addplot[cFrancja, line width=2pt] coordinates {(-84,2300)(-80,2200)(-76,1780)(-71,1420)(-65,1270)(-62,1130)(-58,980)(-53.3,753)(-48.8,600)(-44.4,497)(-40,420)(-35.4,330)(-33.6,310)(-30,286)(-26.5,330)(-22,375)(-17.5,470)(-13,656)(-8.6,880)(-4,1065)(0,1506)};
\addplot[cNiemcy, line width=2pt] coordinates {(-84,1700)(-80,1900)(-71,1460)(-65,1280)(-59.6,1065)(-53.3,895)(-48.8,870)(-44.4,656)(-40,497)(-35.4,352)(-32,380)(-26.5,415)(-22,470)(-19.4,520)(-17.5,540)(-13,656)(-8.6,753)(-4,993)(0,1180)};
\addplot[cEuropa, line width=2.2pt] coordinates {(-84,1065)(-77,950)(-70,820)(-65,572)(-56,450)(-47,329)(-38,217)(-35.4,189)(-27.4,171)(-21,189)(-14.9,233)(-8.6,352)(-3.2,534)(0,553)};
\addplot[cUSA, line width=2pt] coordinates {(-84,90)(-80,97)(-76,112)(-71,148)(-66.7,171)(-62,189)(-58,200)(-55,207)(-51.5,250)(-48,285)(-44.4,320)(-40.8,340)(-37,330)(-33.6,340)(-30,340)(-26.5,352)(-23,340)(-19.4,330)(-15.8,320)(-12,310)(-9.5,285)(-6.8,310)(-3.2,365)(-1.4,330)(0,352)};
\addplot[cUK, line width=2pt] coordinates {(-84,900)(-80,572)(-76,520)(-71,470)(-65.8,380)(-62,260)(-58,233)(-53.3,196)(-50,141)(-48,118)(-44.4,118)(-40,107)(-35.4,107)(-30,97)(-26.5,104)(-23,97)(-20,112)(-16.6,125)(-13,196)(-10.4,196)(-7.7,260)(-5,250)(-2.3,250)(0,330)};
\addplot[cSlowacja, line width=2pt] coordinates {(-84,900)(-80,534)(-76,415)(-71,260)(-66.7,177)(-62,125)(-58,82)(-53.3,63)(-48.8,51)(-44.4,49)(-40,39)(-35.4,29)(-31,24)(-26.5,21)(-24,20.6)(-20,23.4)(-16.6,27.5)(-13,28.5)(-10.4,29)(-7,39)(-3.2,51)(0,64)};
\addplot[cCzechy!80, line width=2pt] coordinates {(-84,470)(-80,415)(-76,310)(-71,217)(-67.6,189)(-64,166)(-59.6,125)(-55,94)(-51.5,78)(-48,57)(-44.4,46.5)(-40.8,31)(-37,27)(-33.6,22)(-31,22)(-28,24)(-24.7,20)(-21,23.5)(-17.5,26.4)(-14,28.5)(-10.4,30.5)(-7,36)(-4,47)(0,72)};
\addplot[cRosja!80, line width=2pt] coordinates {(-84,109)(-80,92)(-76,77)(-71,67)(-66.7,58)(-62,51.5)(-58,44)(-53,36)(-48.8,34)(-44,31)(-40.8,34)(-35.4,30)(-28,28)(-21,23.5)(-14,21)(-8.6,19.8)(0,19.8)};
\addplot[cPolska!85, line width=3.5pt] coordinates {(-84,44)(-83,33)(-80,32)(-76,28)(-73,27)(-72,21.5)(-68.5,22)(-66,22)(-65,27)(-62,24)(-59.6,21)(-58,17.5)(-55,14.5)(-52.4,13.7)(-50,13)(-47,11.1)(-44.4,10.4)(-41.7,8.7)(-38,8.1)(-35.4,6.8)(-32,6.4)(-28,6)(-24.7,5.6)(-22,5.4)(-18.4,5.6)(-14.9,5.6)(-13,4.7)(-10.4,4.9)(-7.7,6)(-6,6.8)(-3.2,7.3)(-1.4,8.4)(0,10)};
\end{axis}
\node[align=center, font=\fontsize{9.5}{12}\selectfont\bfseries, fill=white, fill opacity=0.6, text opacity=1, inner sep=1pt] at (110pt,-1924pt) {Średnia krocząca nowych wykryć\\na milion mieszkańców};
\node[align=center, font=\fontsize{9.5}{12}\selectfont\bfseries, fill=white, fill opacity=0.6, text opacity=1, inner sep=1pt] at (110pt,-1959pt) {(obliczana na podstawie\\siedmiu dni z danymi)};
\node[font=\fontsize{8}{9}\selectfont\bfseries, text=cUkraina] at (185pt,-2226pt) {Za mało jest dni z danymi dla Ukrainy.};
\node[lab, text=cIzrael] at (338pt,-1933pt) {Izrael};
\node[lab, text=cFrancja] at (338pt,-1941pt) {Francja};
\node[lab, text=cNiemcy] at (338pt,-1949pt) {Niemcy};
\node[lab, text=cAustria] at (338pt,-1957pt) {Austria};
\node[lab, text=cWlochy] at (338pt,-1965pt) {Włochy};
\node[lab, text=cEuropa] at (338pt,-1973pt) {Europa};
\node[lab, text=cUSA] at (338pt,-1989pt) {USA};
\node[lab, text=cHolandia] at (338pt,-2001pt) {Holandia};
\node[lab, text=cUK] at (338pt,-2009pt) {UK};
\node[lab, text=cLitwa!80!black] at (338pt,-2066pt) {Litwa};
\node[lab, text=cCzechy] at (338pt,-2076pt) {Czechy};
\node[lab, text=cSlowacja] at (338pt,-2084pt) {Słowacja};
\node[lab, text=cRosja] at (338pt,-2140pt) {Rosja};
\node[lab, text=cRPA] at (338pt,-2157pt) {RPA};
\node[lab, text=cIndie!80!black] at (338pt,-2166pt) {Indie};
\node[lab, text=cPolska] at (338pt,-2175pt) {Polska};

%%%%%%%%%%%%%%%% PANEL 7
\begin{axis}[base, daterows, at={(19pt,-2290pt)}, width=351pt, height=343pt,
  xmin=0, xmax=196, ymin=0, ymax=550,
  xtick={0,28,...,196}, xticklabels={02-18,03-18,04-15,05-13,06-10,07-08,08-05,09-02},
  extra x ticks={14,42,...,182}, extra x tick labels={03-04,04-01,04-29,05-27,06-24,07-22,08-19},
  minor xtick={7,21,...,189},
  ytick={0,50,...,550}, minor y tick num=4,
  yticklabel style={anchor=west, xshift=1pt},
]
\addplot[cRPA, line width=1.3pt, mark=*, mark size=0.5pt] coordinates {(0,62)(64,63)(133.6,68)};
\addplot[cBialorus, line width=1.3pt] coordinates {(0,93)(8,98)(26.6,103)(45,103)(82,105)};
\addplot[cUkraina, line width=1.3pt, mark=*, mark size=0.8pt] coordinates {(0,109)(17,115)(36,115)(64,115)(100,115)(133.6,115)};
\addplot[cRosja!85!black, line width=1.6pt] coordinates {(0,104)(8,115)(17,120)(36,125)(64,126)(133.6,127)};
\addplot[cBrazylia, line width=1.6pt] coordinates {(0,133)(26.6,141)(64,146)(101,149)(133.6,153)};
\addplot[cPolska, line width=1.8pt] coordinates {(0,146)(17,157)(45,160)(133.6,160)};
\addplot[cSzwecja, line width=1.2pt, mark=*, mark size=0.5pt] coordinates {(0,237)(26.6,244)(64,245)(133.6,245)};
\addplot[cNorwegia, line width=1.6pt] coordinates {(0,205)(8,229)(26.6,261)(45,266)(64,267)(133.6,269)};
\addplot[cHiszpania, line width=1.4pt] coordinates {(0,237)(26.6,245)(45,251)(64,253)(82,258)(110,264)(133.6,272)};
\addplot[cUSA!80!black, line width=1.4pt] coordinates {(0,243)(26.6,245)(45,248)(64,253)(82,256)(110,261)(133.6,270)};
\addplot[cWlochy!90!black, line width=1.6pt] coordinates {(0,205)(17,218)(36,242)(54.5,266)(73,280)(92,288)(120,296)(133.6,308)};
\addplot[cEuropa, line width=1.6pt] coordinates {(0,226)(17,245)(36,266)(54.5,285)(73,296)(101,304)(120,306)(133.6,313)};
\addplot[cIrlandia, line width=1.3pt] coordinates {(0,255)(26.6,280)(45,302)(64,310)(101,312)(133.6,325)};
\addplot[cSlowacja, line width=1.3pt] coordinates {(0,243)(8,261)(17,285)(36,312)(54.5,322)(73,327)(133.6,330)};
\addplot[cUK, line width=1.4pt, mark=*, mark size=0.6pt] coordinates {(0,275)(8,280)(26.6,296)(45,317)(64,325)(82,328)(133.6,336)};
\addplot[cNiemcy, line width=1.4pt] coordinates {(0,160)(8,172)(17,192)(26.6,218)(36,245)(45,270)(54.5,286)(64,297)(73,305)(92,313)(110,319)(133.6,341)};
\addplot[cBelgia, line width=1.1pt, mark=*, mark size=0.6pt] coordinates {(0,292)(17,305)(36,325)(54.5,341)(73,350)(101,355)(130.8,359)};
\addplot[cLuks, line width=1.1pt, mark=*, mark size=0.6pt] coordinates {(0,283)(17,300)(26.6,315)(34,331)(45,347)(64,373)(82,390)(110,400)(127,408)(131.8,421)};
\addplot[cSzwajcaria, line width=1.1pt, mark=*, mark size=0.6pt] coordinates {(0,309)(8,325)(17,352)(26.6,390)(36,406)(43,408)(54.5,413)(64,419)(82,421)(101,424)(120,427)(131.8,435)};
\addplot[cCzechy, line width=2pt] coordinates {(0,326)(8,333)(17,340)(26.6,347)(36,353)(54.5,361)(73,363)(133.6,364)};
\addplot[cFrancja, line width=1.6pt] coordinates {(0,320)(13.6,325)(26.6,332)(36,345)(45,373)(54.5,406)(64,422)(73,432)(92,440)(110,442)(120,448)(133.6,465)};
\addplot[cHolandia!90!black, line width=1.6pt] coordinates {(0,350)(13.6,379)(21,411)(26.6,430)(36,448)(43,459)(54.5,466)(64,468)(82,470)(101,471)(120,474)(133.6,477)};
\addplot[cAustria, line width=1.4pt] coordinates {(0,272)(8,290)(13.6,305)(21,335)(26.6,370)(31,395)(36,420)(45,440)(54.5,454)(64,465)(82,475)(101,480)(120,485)(133.6,499)};
\addplot[cIzrael, line width=1.6pt] coordinates {(0,407)(8,423)(26.6,435)(45,456)(54.5,466)(64,468)(82,472)(101,477)(120,484)(133.6,501)};
\end{axis}
\node[anchor=west, font=\fontsize{9.5}{11}\selectfont\bfseries, inner sep=0pt] at (24pt,-2298pt) {Wykrycia łącznie na tysiąc ludzi};
\node[lab, text=cIzrael] at (273pt,-2305pt) {Izrael};
\node[lab, text=cAustria] at (273pt,-2313pt) {Austria};
\node[lab, text=cFrancja] at (273pt,-2325pt) {Francja};
\node[lab, text=cHolandia] at (273pt,-2331pt) {Holandia};
\node[lab, text=cSzwajcaria] at (273pt,-2355pt) {Szwajcaria};
\node[lab, text=cLuks] at (273pt,-2375pt) {Luksemburg};
\node[lab, text=cCzechy] at (273pt,-2400pt) {Czechy};
\node[lab, text=cBelgia] at (273pt,-2406pt) {Belgia};
\node[lab, text=cNiemcy] at (273pt,-2412pt) {Niemcy};
\node[lab, text=cUK] at (273pt,-2418pt) {UK};
\node[lab, text=cSlowacja] at (273pt,-2424pt) {Słowacja};
\node[lab, text=cIrlandia] at (273pt,-2431pt) {Irlandia};
\node[lab, text=cEuropa] at (273pt,-2437pt) {Europa};
\node[lab, text=cWlochy!90!black] at (273pt,-2443pt) {Włochy};
\node[lab] at (273pt,-2455pt) {\textcolor{cHiszpania}{Hiszpania,} \textcolor{cUSA}{USA}};
\node[lab, text=cNorwegia] at (273pt,-2461pt) {Norwegia};
\node[lab, text=cSzwecja] at (273pt,-2480pt) {Szwecja};
\node[lab, text=cPolska] at (273pt,-2530pt) {Polska};
\node[lab, text=cBrazylia] at (273pt,-2536pt) {Brazylia};
\node[lab, text=cRosja] at (273pt,-2555pt) {Rosja};
\node[lab, text=cUkraina] at (273pt,-2561pt) {Ukraina};
\node[lab, text=cBialorus] at (273pt,-2567pt) {Białoruś};
\node[lab, text=cRPA] at (273pt,-2590pt) {RPA};

%%%%%%%%%%%%%%%% PANEL 8
\begin{axis}[base, daterows, at={(19pt,-2671pt)}, width=351pt, height=342pt,
  xmin=0, xmax=728, ymin=0, ymax=4000,
  xtick={28,84,...,700}, xticklabels={08-14,10-09,12-04,01-29,03-26,05-21,07-16,09-10,11-05,12-31,02-25,04-22,06-17},
  extra x ticks={0,56,...,728}, extra x tick labels={07-17,09-11,11-06,01-01,02-26,04-23,06-18,08-13,10-08,12-03,01-28,03-25,05-20,07-15},
  minor xtick={0,14,...,728},
  ytick={0,400,...,4000}, yticklabels={0,400,800,1\,200,1\,600,2\,000,2\,400,2\,800,3\,200,3\,600,4\,000},
  minor y tick num=3,
  yticklabel style={anchor=west, xshift=1pt},
]
\addplot[cNorwegia, line width=1.2pt] coordinates {(0,50)(98.9,80)(237,130)(375.4,170)(513.6,209)(548,265)(617.3,346)(621,424)(652,541)(714,627)};
\addplot[cSwiat, line width=1.2pt] coordinates {(0,130)(98.9,226)(168,366)(237,483)(306,580)(375.4,678)(444.5,775)(513.6,853)(582.8,912)(652,970)(714,999)};
\addplot[cIzrael, line width=1.2pt] coordinates {(0,40)(133.4,424)(202.5,658)(306,744)(375.4,756)(410,814)(444.5,912)(548,970)(562,1087)(582.8,1204)(652,1243)(714,1275)};
\addplot[cSzwajcaria, line width=1.2pt] coordinates {(0,234)(98.9,307)(133.4,697)(168,1126)(202.5,1282)(271.7,1360)(340.8,1380)(410,1380)(479,1419)(513.6,1477)(548,1555)(582.8,1594)(652,1633)(714,1640)};
\addplot[cNiemcy, line width=1.2pt] coordinates {(0,50)(98.9,151)(133.4,346)(168,814)(202.5,931)(237,1009)(271.7,1068)(340.8,1107)(410,1146)(479,1185)(513.6,1360)(548,1438)(582.8,1536)(617.3,1614)(652,1672)(714,1711)};
\addplot[cRPA, line width=1.2pt] coordinates {(0,130)(64.3,265)(133.4,541)(168,853)(237,931)(306,970)(340.8,1126)(375.4,1399)(410,1516)(479,1555)(548,1633)(582.8,1692)(714,1711)};
\addplot[cSzwecja, line width=1.2pt] coordinates {(0,561)(64.3,580)(98.9,697)(133.4,931)(168,1165)(202.5,1282)(271.7,1419)(340.8,1427)(410,1438)(479,1477)(513.6,1536)(548,1633)(582.8,1711)(652,1828)(714,1860)};
\addplot[cBelgia, line width=1.2pt] coordinates {(0,226)(64.3,234)(98.9,424)(133.4,931)(168,1282)(202.5,1399)(271.7,1497)(340.8,1516)(410,1524)(479,1555)(513.6,1672)(548,1750)(582.8,1789)(652,1867)(714,1898)};
\addplot[cAustria, line width=1.2pt] coordinates {(0,50)(98.9,265)(133.4,619)(168,892)(202.5,1009)(271.7,1204)(340.8,1224)(410,1243)(479,1321)(513.6,1555)(548,1633)(582.8,1711)(617.3,1828)(645,1867)(649,2042)(673,2101)(714,2128)};
\addplot[cFrancja, line width=1.2pt] coordinates {(0,463)(64.3,483)(98.9,658)(133.4,892)(168,1204)(202.5,1399)(271.7,1633)(340.8,1672)(410,1750)(479,1828)(513.6,1887)(548,1945)(582.8,2081)(617.3,2140)(714,2237)};
\addplot[cHiszpania, line width=1.2pt] coordinates {(0,600)(29.7,619)(98.9,775)(133.4,1048)(168,1360)(202.5,1633)(237,1711)(306,1750)(375.4,1809)(444.5,1867)(513.6,1945)(548,2062)(582.8,2140)(652,2237)(714,2296)};
\addplot[cUkraina, line width=1.2pt] coordinates {(0,31)(168,151)(202.5,307)(237,541)(258,853)(279,1087)(306,1204)(375.4,1224)(444.5,1282)(465,1399)(486,1828)(507,2101)(534,2335)(582.8,2491)(714,2491)};
\addplot[cEuropa, line width=1.2pt] coordinates {(0,327)(64.3,346)(98.9,541)(133.4,853)(168,1282)(202.5,1555)(237,1672)(271.7,1692)(340.8,1731)(410,1789)(479,1945)(513.6,2062)(548,2179)(582.8,2316)(617.3,2413)(652,2452)(714,2491)};
\addplot[cRosja!80!black, line width=1.2pt] coordinates {(0,70)(98.9,226)(168,619)(237,853)(306,931)(340.8,1009)(410,1321)(479,1828)(513.6,2179)(548,2374)(582.8,2491)(617.3,2549)(652,2588)(714,2616)};
\addplot[cUK, line width=1.2pt] coordinates {(0,678)(26,678)(29.7,619)(98.9,658)(168,1555)(202.5,1887)(271.7,1895)(340.8,1906)(410,1984)(479,2101)(513.6,2218)(548,2316)(582.8,2413)(624,2472)(652,2588)(714,2678)};
\addplot[cAmeryki, line width=1.2pt] coordinates {(0,307)(64.3,580)(133.4,1165)(202.5,1633)(271.7,1828)(340.8,1945)(410,2140)(479,2374)(548,2491)(582.8,2588)(617.3,2705)(714,2795)};
\addplot[cWlochy!90!black, line width=1.2pt] coordinates {(0,443)(64.3,463)(98.9,619)(133.4,931)(168,1399)(202.5,1672)(237,1906)(271.7,2023)(306,2101)(340.8,2120)(410,2140)(479,2198)(513.6,2257)(548,2452)(582.8,2608)(617.3,2705)(652,2744)(714,2795)};
\addplot[cPolska, line width=1.2pt] coordinates {(0,50)(98.9,151)(133.4,424)(168,697)(202.5,931)(237,1165)(258,1477)(279,1906)(299,1965)(340.8,1984)(410,1984)(458,2004)(493,2179)(513.6,2491)(534,2725)(562,2881)(582.8,2998)(617.3,3076)(652,3095)(714,3095)};
\addplot[cUSA, line width=1.2pt] coordinates {(0,443)(29.7,541)(64.3,658)(98.9,814)(133.4,1204)(168,1594)(202.5,1750)(237,1828)(271.7,1945)(306,2062)(340.8,2218)(375.4,2296)(410,2452)(444.5,2491)(479,2569)(513.6,2705)(548,2822)(582.8,2950)(617.3,3076)(652,3115)(714,3154)};
\addplot[cCzechy, line width=1.3pt] coordinates {(0,50)(64.3,70)(98.9,185)(110,400)(120,540)(133.4,700)(154,930)(182,1320)(202.5,1790)(223,2020)(237,2400)(258,2686)(279,2820)(306,2840)(375,2860)(444,2860)(472,2900)(493,3076)(514,3216)(527,3392)(548,3485)(562,3524)(583,3641)(603,3743)(631,3778)(714,3790)};
\end{axis}
\node[anchor=west, font=\fontsize{9.5}{11}\selectfont\bfseries, inner sep=0pt] at (24pt,-2678pt) {Oficjalna liczba zgonów na milion ludzi};
\node[lab, text=cCzechy] at (24pt,-2693pt) {Czechy};
\node[lab, text=cUSA] at (24pt,-2743pt) {USA};
\node[lab, text=cPolska] at (24pt,-2752pt) {Polska};
\node[lab, text=cWlochy!90!black] at (24pt,-2769pt) {Włochy};
\node[lab, text=cAmeryki] at (24pt,-2778pt) {Obie Ameryki};
\node[lab] at (24pt,-2786pt) {\textcolor{cUK}{UK,} \textcolor{cRosja}{Rosja}};
\node[lab, text=cEuropa] at (24pt,-2795pt) {Europa};
\node[lab, text=cUkraina] at (24pt,-2803pt) {Ukraina};
\node[lab, text=cHiszpania] at (24pt,-2812pt) {Hiszpania};
\node[lab, text=cFrancja] at (24pt,-2821pt) {Francja};
\node[lab, text=cAustria] at (24pt,-2829pt) {Austria};
\node[lab, text=cBelgia] at (24pt,-2846pt) {Beneluks};
\node[lab, text=cSzwecja] at (24pt,-2855pt) {Szwecja};
\node[lab] at (24pt,-2863pt) {\textcolor{cRPA}{RPA,} \textcolor{cNiemcy}{Niemcy}};
\node[lab, text=cSzwajcaria] at (24pt,-2872pt) {Szwajcaria};
\node[lab, text=cIzrael] at (24pt,-2906pt) {Izrael};
\node[lab, text=cSwiat] at (24pt,-2923pt) {Świat bez Chin};
\node[lab, text=cNorwegia] at (24pt,-2940pt) {Norwegia};
\node[font=\fontsize{7}{8}\selectfont\bfseries] at (110pt,-3008pt) {2021};
\node[font=\fontsize{7}{8}\selectfont\bfseries] at (287pt,-3008pt) {2022};
\end{tikzpicture}
\end{document}
